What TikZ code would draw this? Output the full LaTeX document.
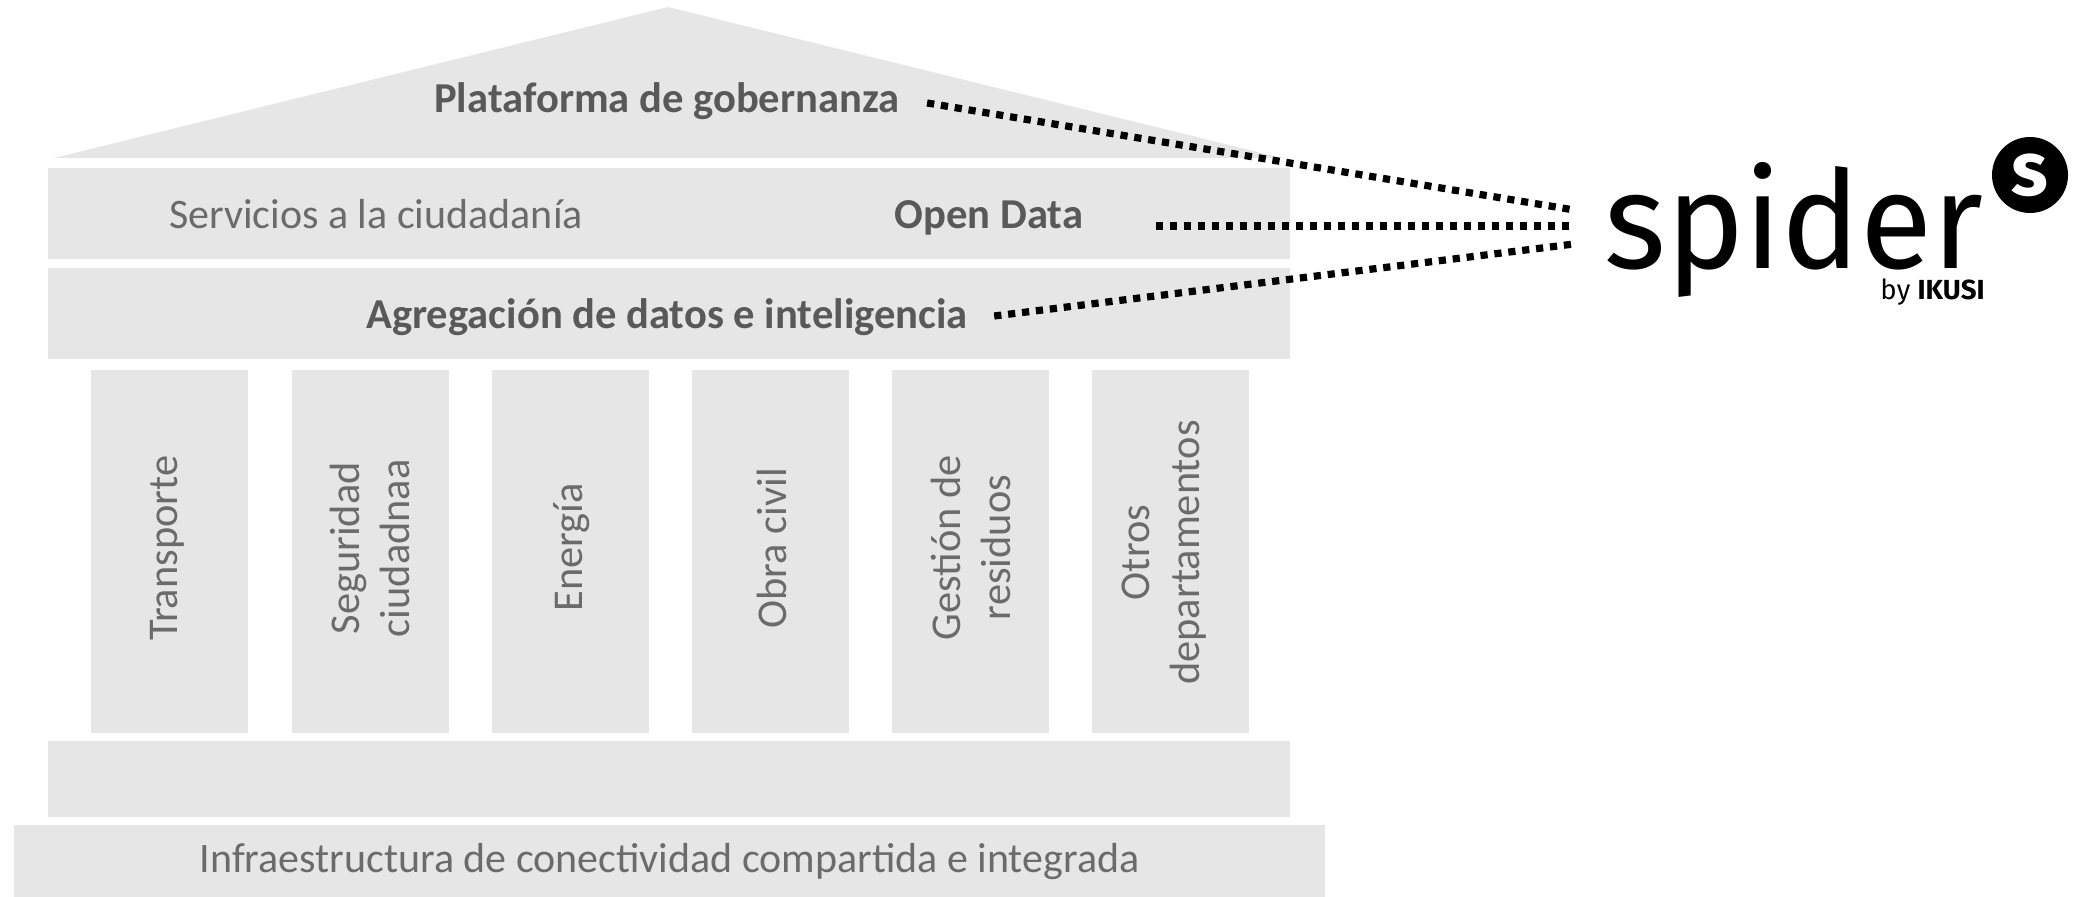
\documentclass[tikz,border=0pt]{standalone}
\usepackage{fontspec}
\setmainfont{Carlito}
\newfontfamily\logofont{Fira Sans}
\definecolor{bandgray}{HTML}{E6E6E6}
\definecolor{boldtext}{HTML}{595959}
\definecolor{lighttext}{HTML}{6B6B6B}
\tikzset{
  band/.style={fill=bandgray,draw=none,inner sep=0pt,minimum width=621pt,minimum height=45.5pt},
  pillar/.style={fill=bandgray,draw=none,inner sep=0pt,minimum width=78.5pt,minimum height=181.5pt},
  pillartxt/.style={inner sep=0pt,rotate=90,align=center,text=lighttext,font=\fontsize{21.2}{25}\selectfont},
  lighttxt/.style={text=lighttext,inner sep=0pt,font=\fontsize{21}{24}\selectfont},
  boldtxt/.style={text=boldtext,inner sep=0pt,font=\fontsize{21.3}{24}\selectfont\bfseries},
  link/.style={draw=black,line width=3.6pt,dash pattern=on 3.6pt off 3.4pt}
}
\begin{document}
\begin{tikzpicture}[x=0.5pt,y=-0.5pt]
\useasboundingbox (0,0) rectangle (2080,897);
% roof
\fill[bandgray] (54,158) -- (668,7) -- (1282,158) -- cycle;
% bands
\node[band] (services) at (668.5,213.5) {};
\node[band] (aggregation) at (668.5,313.5) {};
\node[band,minimum height=38pt] (base) at (668.5,779) {};
\node[band,minimum width=655.5pt,minimum height=36pt] (infra) at (669.5,861) {};
\node[lighttxt] (infratxt) at ([yshift=-0.5pt]infra.center) {Infraestructura de conectividad compartida e integrada};
% pillars
\node[pillar] (p1) at (169.5,551.5) {};
\node[pillar] (p2) at (370.5,551.5) {};
\node[pillar] (p3) at (570.5,551.5) {};
\node[pillar] (p4) at (770.5,551.5) {};
\node[pillar] (p5) at (970.5,551.5) {};
\node[pillar] (p6) at (1170.5,551.5) {};
\node[pillartxt] (t1txt) at ([xshift=-1pt,yshift=1.6pt]p1.center) {Transporte};
\node[pillartxt] (t2txt) at ([xshift=-0.5pt,yshift=1.6pt]p2.center) {Seguridad\\ciudadnaa};
\node[pillartxt] (t3txt) at ([xshift=0.6pt,yshift=2pt]p3.center) {Energía};
\node[pillartxt] (t4txt) at ([xshift=0.6pt,yshift=1.6pt]p4.center) {Obra civil};
\node[pillartxt] (t5txt) at ([xshift=0pt,yshift=2pt]p5.center) {Gestión de\\residuos};
\node[pillartxt] (t6txt) at ([xshift=-3.3pt,yshift=-0.5pt]p6.center) {Otros\\departamentos};
% texts
\node[boldtxt] (gob) at (667,101) {Plataforma de gobernanza};
\node[lighttxt] (serv) at (376,214) {Servicios a la ciudadanía};
\node[boldtxt] (open) at (989,218) {Open Data};
\node[boldtxt] (agg) at (667,317) {Agregación de datos e inteligencia};
% logo
\node[inner sep=0pt,anchor=base west,xscale=0.97,text depth=0pt,font=\logofont\fontsize{68}{68}\selectfont] (spider) at (1604,269) {spider};
\node[circle,fill=black,minimum size=38pt,inner sep=0pt,text=white,font=\logofont\bfseries\fontsize{38}{38}\selectfont] (badge) at (2030,175) {s};
\node[inner sep=0pt,anchor=base east,font=\logofont\fontsize{13.8}{13.8}\selectfont] (by) at (1985,300) {by \textbf{IKUSI}};
% connectors
\coordinate (t1) at (1574,210);
\coordinate (t2) at (1574,226);
\coordinate (t3) at (1574,244);
\draw[link] ([xshift=13.5pt,yshift=-1pt]gob.east) -- (t1);
\draw[link] ([xshift=36pt,yshift=-4pt]open.east) -- (t2);
\draw[link] ([xshift=13pt,yshift=0.5pt]agg.east) -- (t3);
\end{tikzpicture}
\end{document}
